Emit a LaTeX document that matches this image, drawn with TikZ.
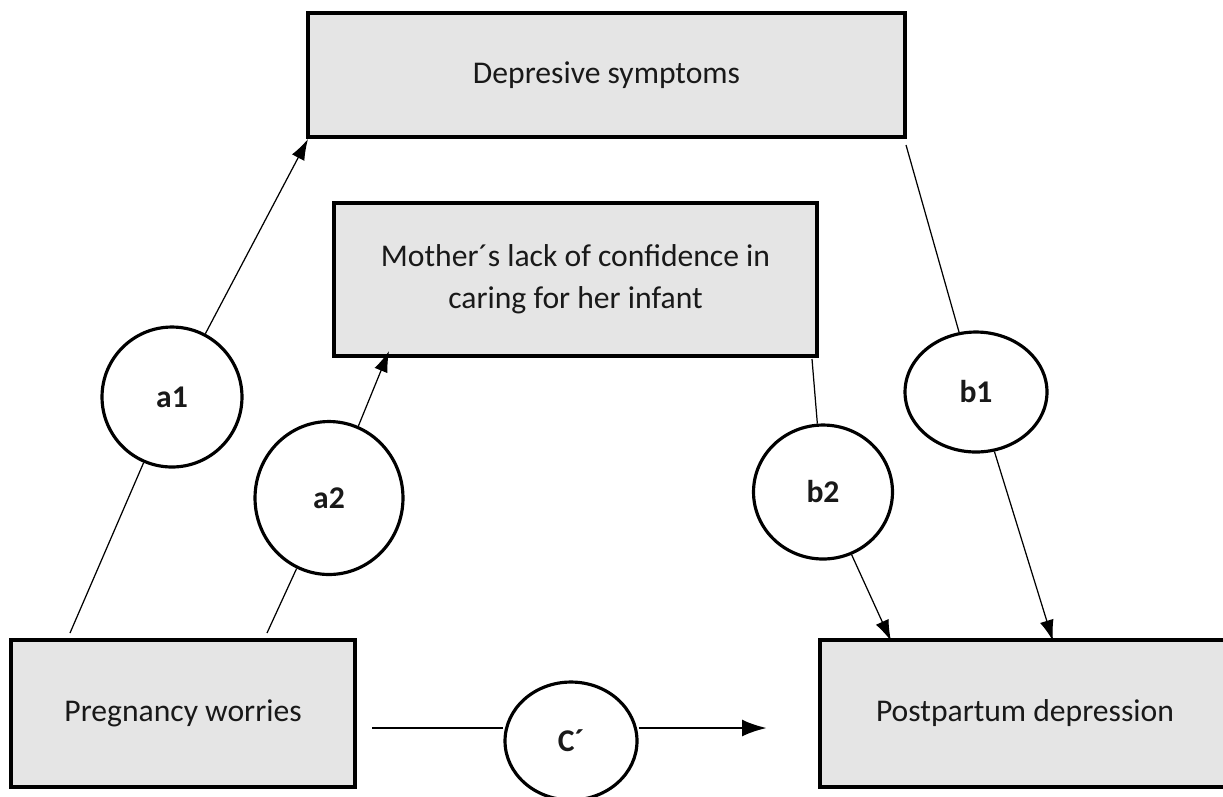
\documentclass[tikz,border=0pt]{standalone}
\usepackage{fontspec}
\setmainfont{Carlito}
\usetikzlibrary{arrows.meta,shapes.geometric}

\begin{document}
\begin{tikzpicture}[x=0.02cm, y=-0.02cm,
    every node/.style={font=\fontsize{18}{24}\selectfont, text=black!90},
    varbox/.style={draw, fill=gray!20, line width=2.2pt, rectangle, align=center},
    pathcirc/.style={draw, fill=white, ellipse, line width=1.8pt, inner sep=0pt, font=\fontsize{18}{24}\selectfont\bfseries},
    effect/.style={line width=0.7pt},
    tip/.style={-{Latex[length=4.2mm,width=2.8mm]}},
    bigtip/.style={-{Latex[length=5mm,width=3.4mm]}}]

        \useasboundingbox (0,0) rectangle (1223,796);

        %===========================
        % Variables
        %===========================

        \draw node (ds) at (606.5,75) [varbox, minimum width=11.94cm, minimum height=2.48cm]{Depresive symptoms};
        \draw node (mc) at (575.5,279.5) [varbox, minimum width=9.66cm, minimum height=3.06cm]{Mother´s lack of confidence in\\caring for her infant};
        \draw node (pw) at (183,713.5) [varbox, minimum width=6.88cm, minimum height=2.94cm]{Pregnancy worries};
        \draw node (pd) at (1025,713.5) [varbox, minimum width=8.2cm, minimum height=2.94cm]{Postpartum depression};

        % end points on the boxes
        \coordinate (s1) at (70,633);
        \coordinate (s2) at (267,633);
        \coordinate (t1) at (308,139);
        \coordinate (t2) at (389,351);
        \coordinate (s3) at (906,145);
        \coordinate (s4) at (812,359);
        \coordinate (t3) at (1053,641);
        \coordinate (t4) at (891,641);
        \coordinate (s5) at (372,728);
        \coordinate (t5) at (767,728);

        %===========================
        % Paths
        %===========================

        % Left Side
        \draw node (a1) at (172,397) [pathcirc, minimum width=2.8cm, minimum height=2.8cm]{a1};
        \draw[effect] (s1) to (a1);
        \draw[effect, tip] (a1) to (t1);

        \draw node (a2) at (329,498) [pathcirc, minimum width=2.96cm, minimum height=3.06cm]{a2};
        \draw[effect] (s2) to (a2);
        \draw[effect, tip] (a2) to (t2);

        % Right Side
        \draw node (b1) at (976,392) [pathcirc, minimum width=2.84cm, minimum height=2.4cm]{b1};
        \draw[effect] (s3) to (b1);
        \draw[effect, tip] (b1) to (t3);

        \draw node (b2) at (823,492) [pathcirc, minimum width=2.78cm, minimum height=2.68cm]{b2};
        \draw[effect] (s4) to (b2);
        \draw[effect, tip] (b2) to (t4);

        % Direct path
        \draw node (cp) at (571,741) [pathcirc, minimum width=2.64cm, minimum height=2.36cm]{C´};
        \draw[line width=1.6pt] (s5) to (s5 -| cp.west);
        \draw[line width=1.6pt, bigtip] (s5 -| cp.east) to (t5);
\end{tikzpicture}
\end{document}
